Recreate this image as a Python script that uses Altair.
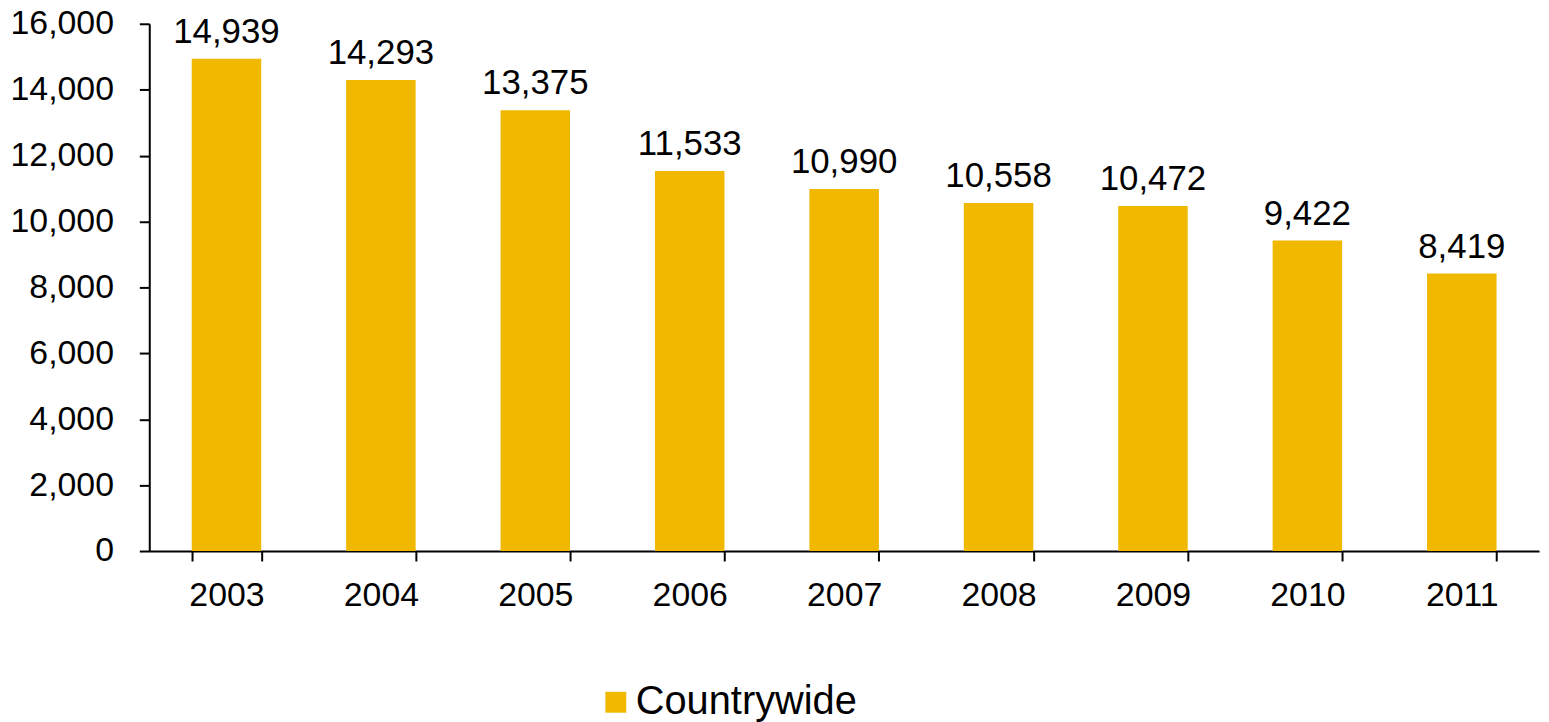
import altair as alt
import pandas as pd

years = ["2003", "2004", "2005", "2006", "2007", "2008", "2009", "2010", "2011"]
values = [14939, 14293, 13375, 11533, 10990, 10558, 10472, 9422, 8419]
series = ["Countrywide"] * len(years)
y_ticks = [0, 2000, 4000, 6000, 8000, 10000, 12000, 14000, 16000]

df = pd.DataFrame({"year": years, "value": values, "series": series})

FONT = "Liberation Sans"
BAR = "#F1B800"

x_enc = alt.X(
    "year:N",
    sort=years,
    scale=alt.Scale(paddingInner=0.55, paddingOuter=0.275),
    axis=alt.Axis(
        title=None, labelAngle=0, tickBand="extent", tickSize=10, tickWidth=2,
        domainWidth=2, domainColor="black", tickColor="black",
        labelFont=FONT, labelFontSize=34, labelColor="black", labelPadding=18,
        grid=False,
    ),
)
y_axis = alt.Axis(
    title=None, values=y_ticks, format=",d", tickSize=10, tickWidth=2,
    domainWidth=2, domainColor="black", tickColor="black",
    labelFont=FONT, labelFontSize=34, labelColor="black", labelPadding=26,
    grid=False,
)
y_scale = alt.Scale(domain=[0, 16000], nice=False)

bars = alt.Chart(df).mark_bar(color=BAR).encode(
    x=x_enc,
    y=alt.Y("value:Q", scale=y_scale, axis=y_axis),
    color=alt.Color(
        "series:N",
        scale=alt.Scale(range=[BAR]),
        legend=alt.Legend(
            title=None, orient="none", legendX=449, legendY=662,
            symbolType="square", symbolSize=441, symbolStrokeWidth=0,
            labelFont=FONT, labelFontSize=40, labelColor="black", labelOffset=0,
            labelLimit=400,
        ),
    ),
)

labels = alt.Chart(df).mark_text(
    font=FONT, fontSize=35, color="black", baseline="alphabetic", dy=-16
).encode(
    x=alt.X("year:N", sort=years),
    y=alt.Y("value:Q", scale=y_scale, axis=y_axis),
    text=alt.Text("value:Q", format=","),
)

chart = alt.layer(bars, labels).properties(
    width=1397, height=530,
    autosize=alt.AutoSizeParams(type="none"),
    padding={"left": 142, "top": 14, "right": 2, "bottom": 170},
).configure_view(stroke=None)

chart.save("out.html", embed_options={"renderer": "svg", "actions": False})
